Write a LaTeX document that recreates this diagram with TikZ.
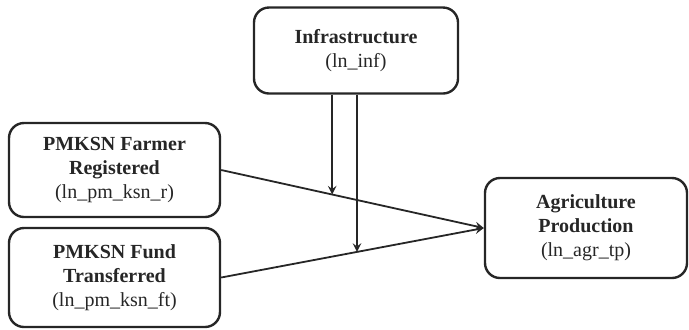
\documentclass[tikz,border=0pt]{standalone}
\usepackage{fontspec}
\setmainfont{Liberation Serif}
\usetikzlibrary{arrows}

\begin{document}
\begin{tikzpicture}[x=0.5pt,y=-0.5pt,>=stealth,
    blk/.style={draw=black!85,line width=1.2pt,rounded corners=7.5pt,align=center,
      font=\fontsize{10}{12}\selectfont,text=black!85,inner sep=0pt},
    lnk/.style={draw=black!85,line width=0.9pt}]
    \useasboundingbox (0,0) rectangle (689,329);
    \node [blk,minimum width=102pt,minimum height=43pt] (inf) at (356,50.5) {\textbf{Infrastructure}\\(ln\_inf)};
    \node [blk,minimum width=105.5pt,minimum height=47pt] (reg) at (114.5,170) {\textbf{PMKSN Farmer}\\\textbf{Registered}\\(ln\_pm\_ksn\_r)};
    \node [blk,minimum width=105.5pt,minimum height=49.5pt] (fund) at (114.5,277.5) {\textbf{PMKSN Fund}\\\textbf{Transferred}\\(ln\_pm\_ksn\_ft)};
    \node [blk,minimum width=101pt,minimum height=50pt] (agr) at (586,228) {\textbf{Agriculture}\\\textbf{Production}\\(ln\_agr\_tp)};
    \draw [lnk,->] (reg.east) to coordinate[pos=0.4226] (m1) (agr.west);
    \draw [lnk,->] (fund.east) to coordinate[pos=0.517] (m2) (agr.west);
    \draw [lnk,->] (m1 |- inf.south) to (m1);
    \draw [lnk,->] (m2 |- inf.south) to (m2);
\end{tikzpicture}
\end{document}
